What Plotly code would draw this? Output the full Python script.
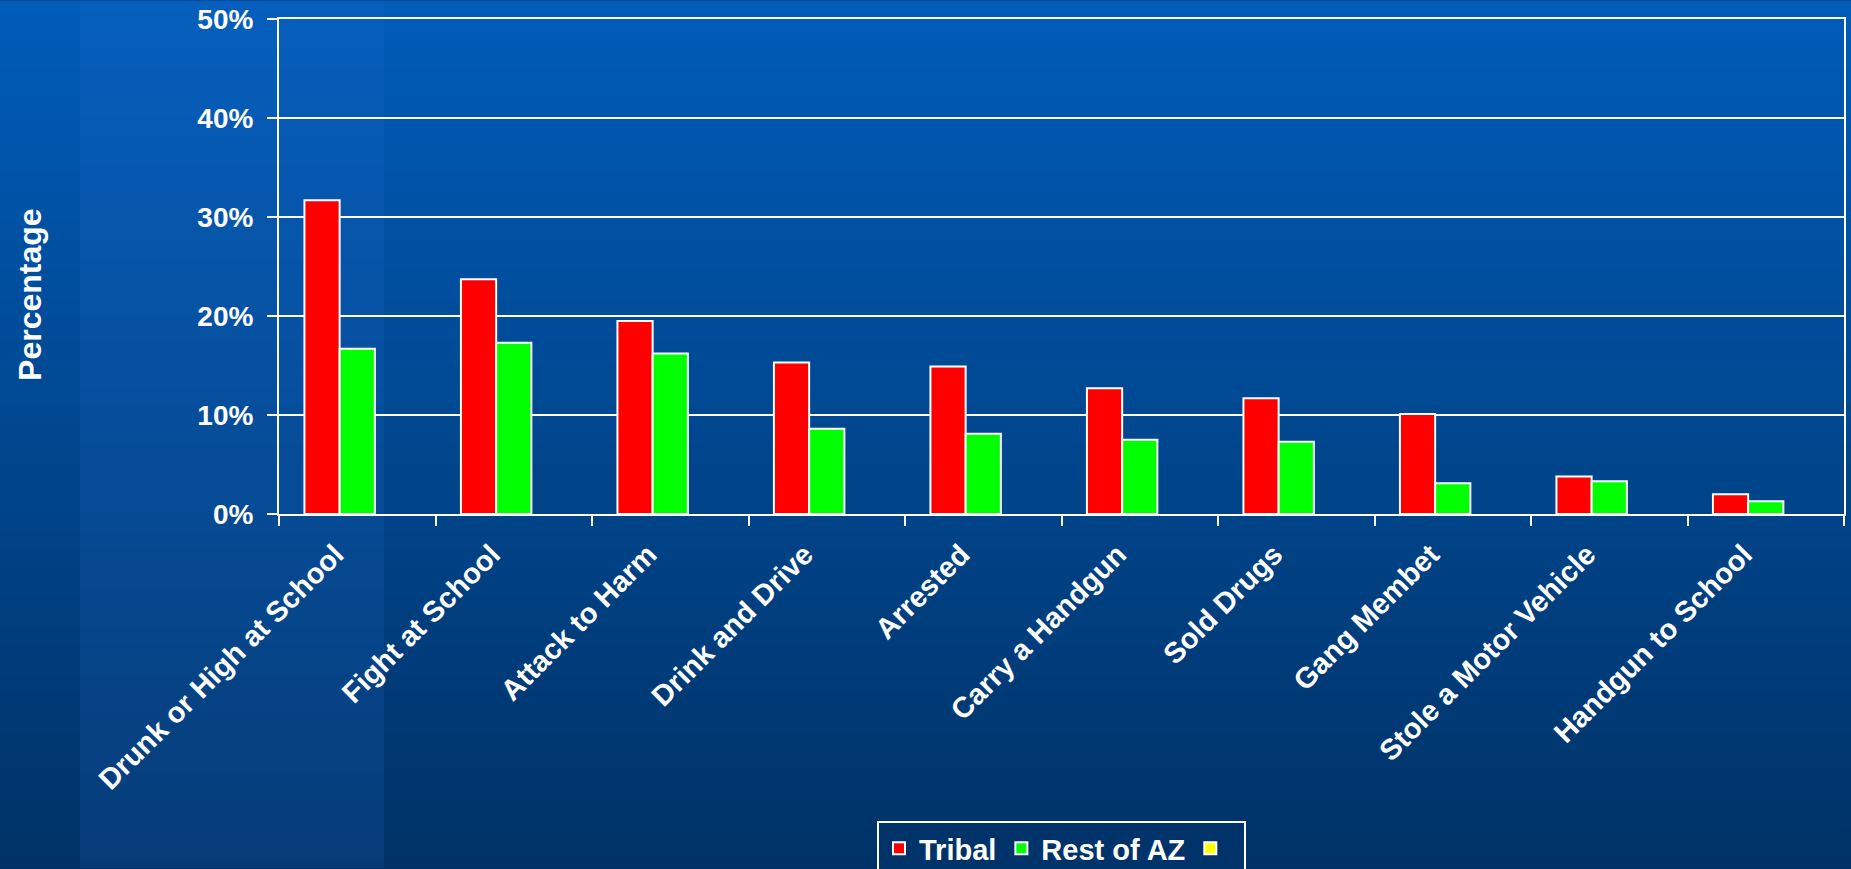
import plotly.graph_objects as go

categories = ["Drunk or High at School", "Fight at School", "Attack to Harm", "Drink and Drive",
              "Arrested", "Carry a Handgun", "Sold Drugs", "Gang Membet",
              "Stole a Motor Vehicle", "Handgun to School"]
tribal = [0.317, 0.237, 0.195, 0.153, 0.149, 0.127, 0.117, 0.101, 0.038, 0.020]
rest_az = [0.167, 0.173, 0.162, 0.086, 0.081, 0.075, 0.073, 0.031, 0.033, 0.013]
third = [None] * len(categories)
y_ticks = [0, 0.1, 0.2, 0.3, 0.4, 0.5]

W, H = 1851, 869
L, R, T, B = 279, 7, 18.5, 354.5
FONT = "Arial, Liberation Sans, sans-serif"

fig = go.Figure()
fig.add_trace(go.Bar(x=categories, y=tribal, name="Tribal",
                     marker=dict(color="#FF0000", line=dict(color="white", width=2))))
fig.add_trace(go.Bar(x=categories, y=rest_az, name="Rest of AZ",
                     marker=dict(color="#00FF00", line=dict(color="white", width=2))))
fig.add_trace(go.Bar(x=categories, y=third, name=" ",
                     marker=dict(color="#FFFF00", line=dict(color="white", width=2))))

# background gradient stripes
shapes = []
n = 90
top = (0, 92, 185)
bot = (0, 50, 102)
ph = H - T - B
pw = W - L - R
for i in range(n):
    f = (i + 0.5) / n
    c = tuple(round(top[k] + (bot[k] - top[k]) * f) for k in range(3))
    y0px = H * i / n
    y1px = H * (i + 1) / n + 1
    shapes.append(dict(type="rect", xref="paper", yref="paper", layer="below",
                       x0=(0 - L) / pw, x1=(W - L) / pw,
                       y0=(H - B - y1px) / ph, y1=(H - B - y0px) / ph,
                       line=dict(width=0), fillcolor="rgb(%d,%d,%d)" % c))
# lighter vertical band
shapes.append(dict(type="rect", xref="paper", yref="paper", layer="below",
                   x0=(80 - L) / pw, x1=(384 - L) / pw,
                   y0=(H - B - H) / ph, y1=(H - B) / ph,
                   line=dict(width=0), fillcolor="rgba(40,110,210,0.16)"))

fig.update_layout(
    width=W, height=H,
    margin=dict(l=L, r=R, t=T, b=B, autoexpand=False),
    paper_bgcolor="#00336A", plot_bgcolor="rgba(0,0,0,0)",
    barmode="group", bargap=0.325, bargroupgap=0,
    font=dict(family=FONT, color="white", size=26),
    shapes=shapes,
    showlegend=True,
    legend=dict(orientation="h", x=0.5, xanchor="center", y=(H - B - 822) / ph, yanchor="top",
                bgcolor="#00336A", bordercolor="white", borderwidth=2,
                font=dict(family=FONT, size=29, color="white", weight="bold"),
                traceorder="normal", itemsizing="constant", itemwidth=30),
    annotations=[dict(text="<b>Percentage</b>", xref="paper", yref="paper",
                      x=(30 - L) / pw, y=(H - B - 295) / ph,
                      xanchor="center", yanchor="middle", textangle=-90, showarrow=False,
                      font=dict(family=FONT, size=32, color="white"))],
)
fig.update_xaxes(showline=True, linecolor="white", linewidth=2, mirror=True,
                 ticks="outside", tickson="boundaries", ticklen=10, tickcolor="white", tickwidth=2,
                 tickangle=-45, showgrid=False, ticklabelshift=-22, ticklabelstandoff=10,
                 tickfont=dict(family=FONT, size=29, color="white", weight="bold"))
fig.update_yaxes(range=[0, 0.5], tickvals=y_ticks, tickformat=".0%",
                 showline=True, linecolor="white", linewidth=2, mirror=True,
                 ticks="outside", ticklen=10, tickcolor="white", tickwidth=2,
                 showgrid=True, gridcolor="white", gridwidth=2, zeroline=False,
                 ticklabelstandoff=8,
                 tickfont=dict(family=FONT, size=28, color="white", weight="bold"))

fig.write_html("out.html", config={"displayModeBar": False},
               post_script="document.body.style.margin='0';document.body.style.overflow='hidden';")
